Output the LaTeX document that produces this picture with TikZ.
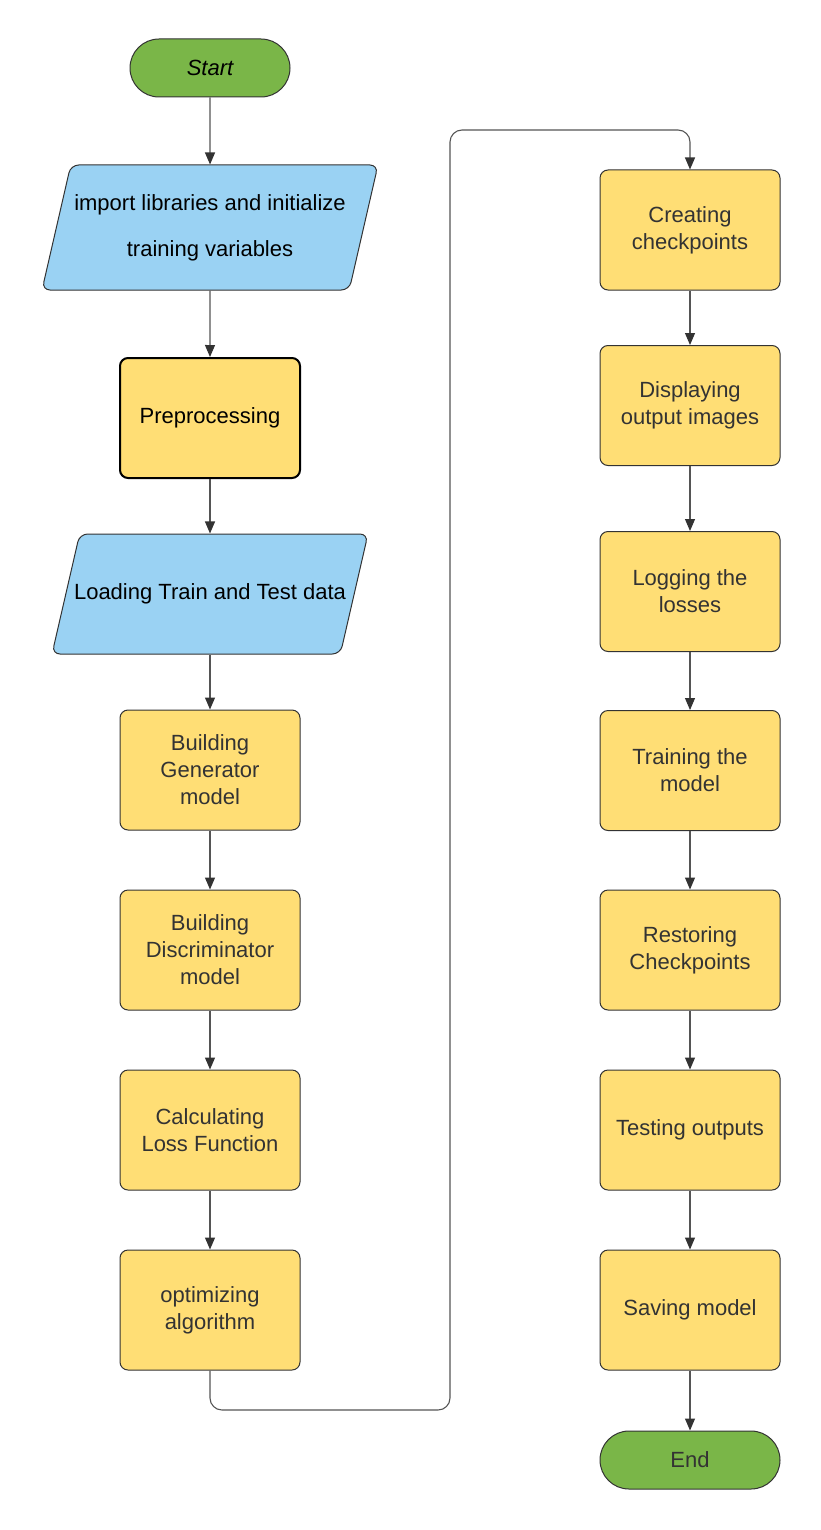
\documentclass[tikz,border=0pt]{standalone}
\usepackage{fontspec}
\setmainfont{Liberation Sans}
\usetikzlibrary{shapes.geometric,arrows.meta}
\definecolor{termgreen}{HTML}{7AB648}
\definecolor{ioblue}{HTML}{9AD2F3}
\definecolor{procyellow}{HTML}{FFDE75}
\definecolor{linegray}{HTML}{555555}
\definecolor{textgray}{HTML}{333333}
\tikzset{myline/.style={linegray,line width=0.55pt,-{Triangle[length=6pt,width=5pt,fill=textgray,color=textgray]}}}
\tikzset{mybox/.style={draw=textgray,line width=0.5pt,fill=procyellow,rounded corners=4pt,minimum width=90pt,minimum height=60pt,align=center,text=textgray,font=\fontsize{11}{13.5}\selectfont}}
\tikzset{myterm/.style={mybox,fill=termgreen,rounded corners=14.5pt,minimum height=29pt,minimum width=80pt}}
\tikzset{myio/.style={draw=textgray,line width=0.5pt,fill=ioblue,trapezium,trapezium left angle=77,trapezium right angle=103,trapezium stretches body=true,inner xsep=1pt,rounded corners=4pt,align=center,font=\fontsize{11}{23}\selectfont}}

\begin{document}
\begin{tikzpicture}[x=0.5pt,y=-0.5pt]
	\useasboundingbox (0,0) rectangle (820,1530);

	% left column
	\node[myterm,text=black,font=\fontsize{11}{13.5}\selectfont\itshape] (start) at (210,68) {Start};
	\node[myio,inner ysep=14.5pt,minimum width=168pt,minimum height=62.5pt] (import) at (210,227.5) {import libraries and initialize\\training variables};
	\node[mybox,draw=black,line width=1pt,text=black] (preproc) at (210,418) {Preprocessing};
	\node[myio,inner ysep=24.8pt,minimum width=158pt,minimum height=60pt] (loading) at (210,594) {\makebox[0pt]{Loading Train and Test data}};
	\node[mybox] (generator) at (210,770) {Building\\Generator\\model};
	\node[mybox] (discrim) at (210,950) {Building\\Discriminator\\model};
	\node[mybox] (loss) at (210,1130) {Calculating\\Loss Function};
	\node[mybox] (optim) at (210,1310) {optimizing\\algorithm};

	% right column
	\node[mybox] (ckpt) at (690,230) {Creating\\checkpoints};
	\node[mybox] (display) at (690,405.5) {Displaying\\output images};
	\node[mybox] (losses) at (690,591.5) {Logging the\\losses};
	\node[mybox] (train) at (690,770.5) {Training the\\model};
	\node[mybox] (restore) at (690,950) {Restoring\\Checkpoints};
	\node[mybox] (test) at (690,1130) {Testing outputs};
	\node[mybox] (save) at (690,1310) {Saving model};
	\node[myterm,minimum width=90pt] (end) at (690,1460) {End};

	\coordinate (loopdown) at (450,1410);
	\coordinate (loopup) at (450,130);

	\draw[myline] (start) -- (import);
	\draw[myline] (import) -- (preproc);
	\draw[myline] (preproc) -- (loading);
	\draw[myline] (loading) -- (generator);
	\draw[myline] (generator) -- (discrim);
	\draw[myline] (discrim) -- (loss);
	\draw[myline] (loss) -- (optim);
	\draw[myline,rounded corners=6pt] (optim.south) |- (loopdown) -- (loopup) -| (ckpt.north);
	\draw[myline] (ckpt) -- (display);
	\draw[myline] (display) -- (losses);
	\draw[myline] (losses) -- (train);
	\draw[myline] (train) -- (restore);
	\draw[myline] (restore) -- (test);
	\draw[myline] (test) -- (save);
	\draw[myline] (save) -- (end);

\end{tikzpicture}
\end{document}
